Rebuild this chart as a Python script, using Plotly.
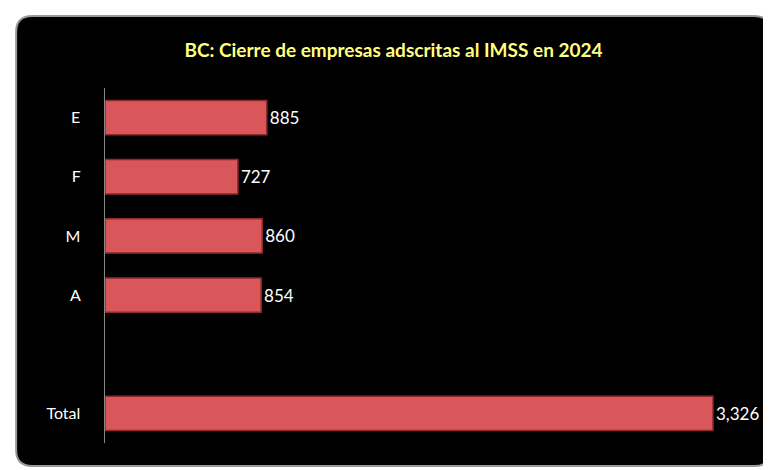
import plotly.graph_objects as go

categories = ["E", "F", "M", "A", " ", "Total"]
values = [885, 727, 860, 854, None, 3326]
labels = ["885", "727", "860", "854", "", "3,326"]

x0, x1, y0, y1 = -0.138, 1.033, -0.065, 1.203
rx, ry = 0.025, 0.045
path = (f"M {x0+rx},{y1} L {x1-rx},{y1} Q {x1},{y1} {x1},{y1-ry} "
        f"L {x1},{y0+ry} Q {x1},{y0} {x1-rx},{y0} L {x0+rx},{y0} "
        f"Q {x0},{y0} {x0},{y0+ry} L {x0},{y1-ry} Q {x0},{y1} {x0+rx},{y1} Z")

fig = go.Figure()
fig.add_trace(go.Bar(
    y=categories, x=values, orientation="h",
    marker=dict(color="#D9575A", line=dict(color="#8E2A2C", width=1.5)),
    text=labels, textposition="outside", cliponaxis=False,
    textfont=dict(color="white", size=17, family="Lato"),
))
fig.update_layout(
    width=771, height=470,
    paper_bgcolor="white", plot_bgcolor="black",
    margin=dict(l=97, r=30, t=80, b=35, autoexpand=False),
    bargap=0.42,
    showlegend=False,
    title=dict(text="<b>BC: Cierre de empresas adscritas al IMSS en 2024</b>",
               x=0.5, xanchor="center", y=0.91, yanchor="middle",
               font=dict(color="#FFFF80", size=19, family="Lato")),
    xaxis=dict(range=[0, 3523], visible=False),
    yaxis=dict(autorange="reversed", categoryorder="array", categoryarray=categories,
               tickfont=dict(color="white", size=16, family="Lato"),
               showline=True, linecolor="#888", linewidth=1, ticks="", ticklen=0,
               showgrid=False, ticksuffix="     "),
    shapes=[dict(type="path", xref="paper", yref="paper", layer="below",
                 path=path, fillcolor="black", line=dict(color="#999", width=2))],
)
fig.write_html("out.html")
